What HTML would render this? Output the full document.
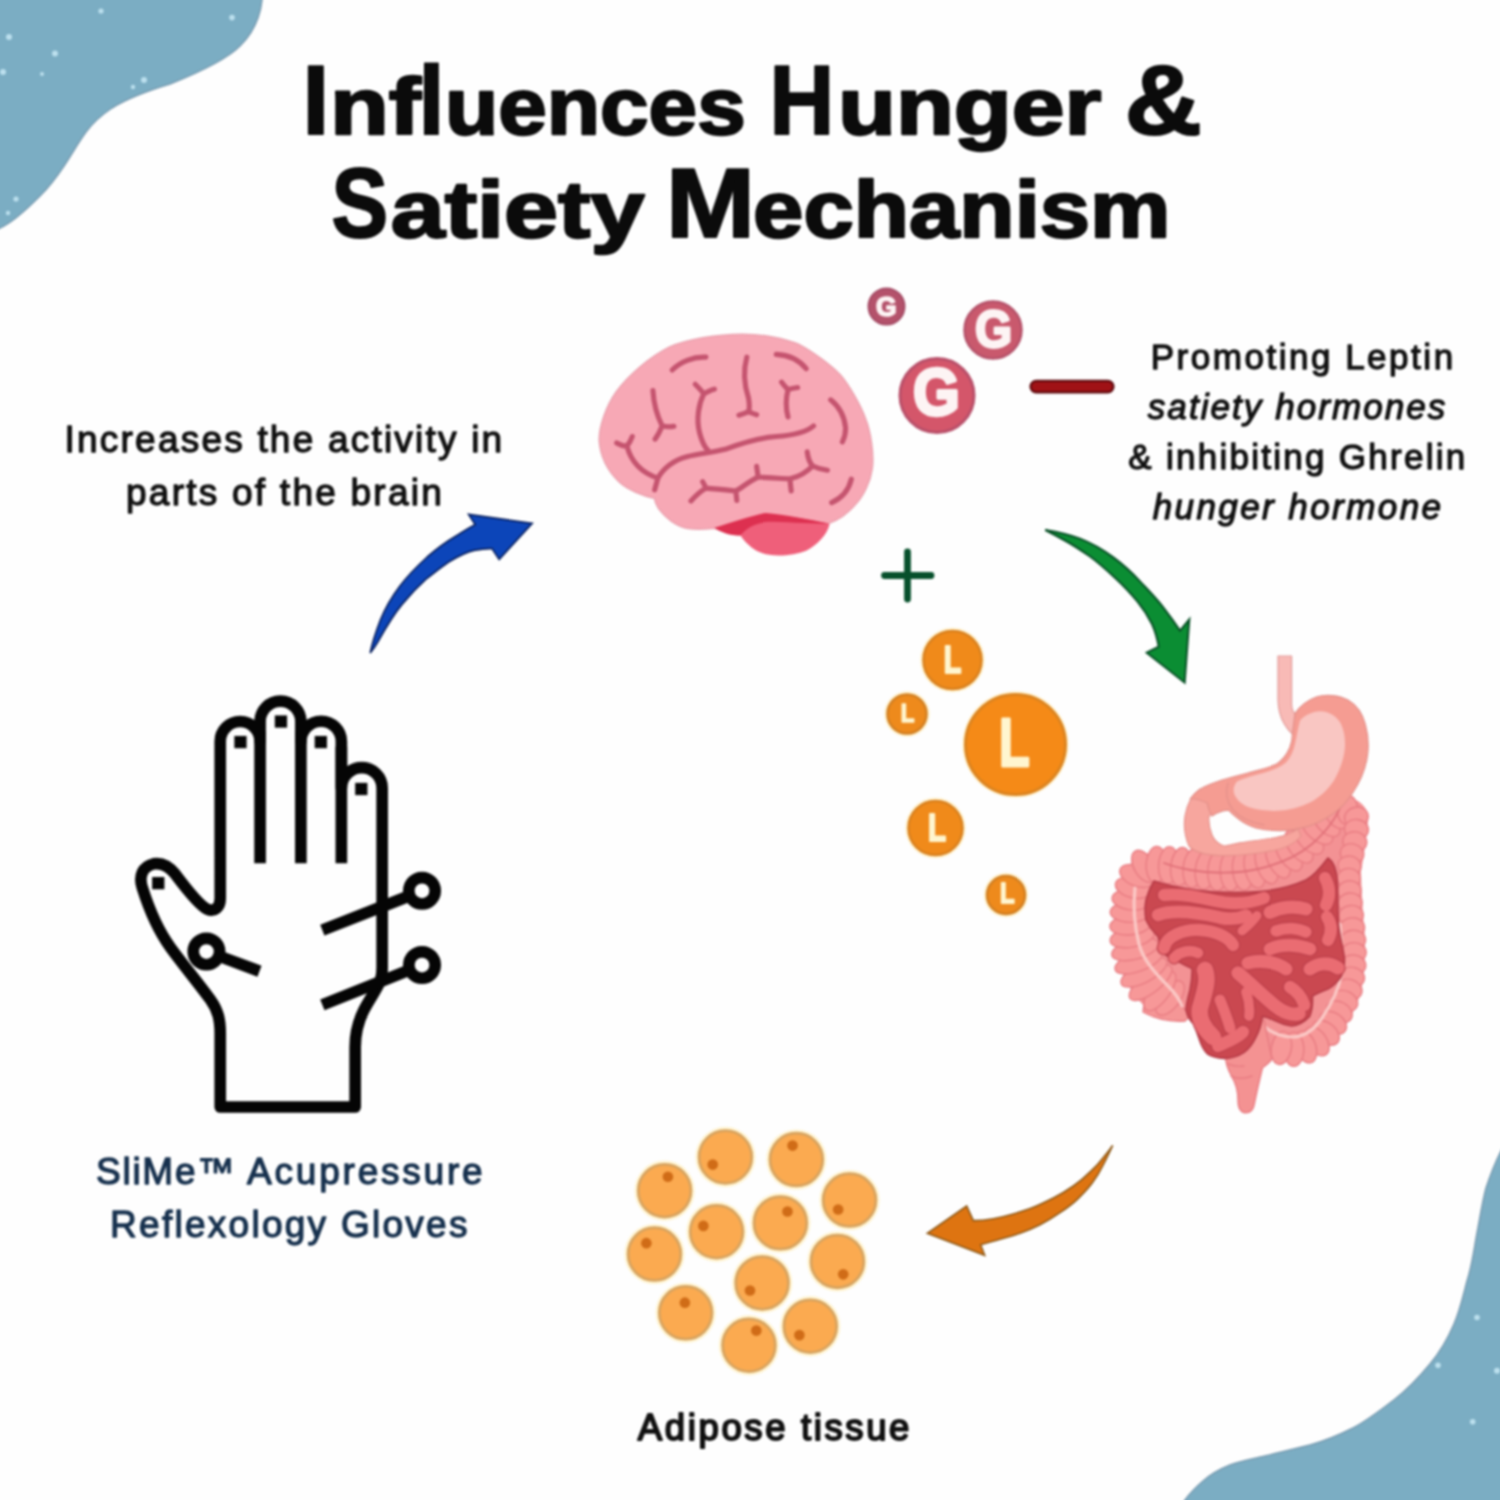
<!DOCTYPE html>
<html lang="en">
<head>
<meta charset="utf-8">
<title>Influences Hunger &amp; Satiety Mechanism</title>
<style>
html,body{margin:0;padding:0;background:#fefefe;}
body{width:1500px;height:1500px;overflow:hidden;position:relative;}
svg{display:block;position:absolute;left:0;top:0;}
text{font-family:"Liberation Sans",sans-serif;}
.title{font-weight:bold;font-size:80px;fill:#0b0b0b;stroke:#0b0b0b;stroke-width:2.4px;stroke-linejoin:round;}
.title .cap{font-size:99px;stroke-width:2.2px;}
.title .tall{font-size:99px;stroke-width:1px;}
.body{font-size:37px;fill:#111;stroke:#111;stroke-width:1.3px;stroke-linejoin:round;}
.sm{font-size:35px;}
.md{font-size:36.5px;stroke-width:1.9px;}
.ital{font-style:italic;}
.navy{fill:#17314e;stroke:#17314e;}
</style>
</head>
<body>
<svg width="1500" height="1500" viewBox="0 0 1500 1500">
<defs>
<filter id="soft" filterUnits="userSpaceOnUse" x="-30" y="-30" width="1560" height="1560" color-interpolation-filters="sRGB"><feGaussianBlur stdDeviation="0.8"/></filter>
</defs>
<rect width="1500" height="1500" fill="#fefefe"/>
<g id="art" filter="url(#soft)">

<!-- corner blobs -->
<g id="blobs">
<path d="M-30,-30 L262,-30 L262,0 C260,20 252,34 240,46 C228,58 200,72 170,84 C150,90 128,98 112,108 C100,116 92,124 86,132 C78,143 72,154 64,166 C56,178 48,188 40,196 C30,206 14,222 0,228 L-30,240 Z" fill="#7badc3" stroke="#7a9db2" stroke-width="1.5"/>
<path d="M1530,1100 L1500,1153 C1494,1165 1490,1176 1486,1188 C1482,1203 1480,1218 1477,1233 C1474,1249 1472,1266 1467,1281 C1463,1296 1460,1310 1454,1324 C1448,1338 1440,1352 1430,1364 C1420,1376 1408,1389 1395,1399 C1382,1409 1368,1420 1353,1428 C1339,1435 1325,1441 1310,1445 C1295,1449 1280,1452 1265,1456 C1253,1459 1241,1461 1230,1465 C1220,1469 1211,1474 1203,1481 C1196,1487 1190,1493 1185,1500 L1170,1530 L1530,1530 Z" fill="#7badc3" stroke="#7a9db2" stroke-width="1.5"/>
<g fill="#c4e6f3" opacity="0.9">
<circle cx="101" cy="11" r="2.6"/><circle cx="232" cy="17.6" r="2.8"/><circle cx="9" cy="37" r="3"/><circle cx="55" cy="53.6" r="3"/><circle cx="3" cy="72" r="3"/><circle cx="144" cy="80" r="3"/><circle cx="133" cy="87" r="2.2"/><circle cx="16" cy="199" r="2.6"/><circle cx="8" cy="213" r="2.2"/><circle cx="42" cy="74" r="2"/>
<circle cx="1477" cy="1317.5" r="2.8"/><circle cx="1438" cy="1365.3" r="2.8"/><circle cx="1497" cy="1370.7" r="3"/><circle cx="1472.7" cy="1421.8" r="2.8"/>
</g>
</g>

<!-- title -->
<g id="title" class="title">
<text y="134.3"><tspan class="cap" x="302.6" textLength="26.7" lengthAdjust="spacingAndGlyphs">I</tspan><tspan x="329.9" textLength="91.0" lengthAdjust="spacingAndGlyphs">nf</tspan><tspan class="tall" x="417.4" textLength="27.9" lengthAdjust="spacingAndGlyphs">l</tspan><tspan x="444.9" textLength="300.8" lengthAdjust="spacingAndGlyphs">uences</tspan> <tspan class="cap" x="769.6" textLength="64.7" lengthAdjust="spacingAndGlyphs">H</tspan><tspan x="838.0" textLength="263.4" lengthAdjust="spacingAndGlyphs">unger</tspan> <tspan class="cap" x="1124.8" textLength="77.1" lengthAdjust="spacingAndGlyphs">&amp;</tspan></text>
<text y="236.8"><tspan class="cap" x="331.4" textLength="56.6" lengthAdjust="spacingAndGlyphs">S</tspan><tspan x="390.8" textLength="253.6" lengthAdjust="spacingAndGlyphs">atiety</tspan> <tspan class="cap" x="666.0" textLength="89.0" lengthAdjust="spacingAndGlyphs">M</tspan><tspan x="753.1" textLength="417.5" lengthAdjust="spacingAndGlyphs">echanism</tspan></text>
</g>

<!-- body copy -->
<g id="copy">
<text class="body" x="64.6" y="452" textLength="437.6" lengthAdjust="spacing">Increases the activity in</text>
<text class="body" x="126.0" y="504.5" textLength="315.8" lengthAdjust="spacing">parts of the brain</text>
<text class="body sm" x="1150.7" y="368.7" textLength="302.4" lengthAdjust="spacing">Promoting Leptin</text>
<text class="body sm ital" x="1147.8" y="418.7" textLength="297.4" lengthAdjust="spacing">satiety hormones</text>
<text class="body sm" x="1128.3" y="469.3" textLength="337.0" lengthAdjust="spacing">&amp; inhibiting Ghrelin</text>
<text class="body sm ital" x="1152.7" y="519.3" textLength="288.3" lengthAdjust="spacing">hunger hormone</text>
<text class="body navy" y="1184"><tspan x="96.0" textLength="138.2" lengthAdjust="spacing">SliMe™</tspan> <tspan x="247.0" textLength="235.7" lengthAdjust="spacing">Acupressure</tspan></text>
<text class="body navy" x="110.1" y="1236.7" textLength="357.3" lengthAdjust="spacing">Reflexology Gloves</text>
<text class="body md" x="637.8" y="1440" textLength="271.6" lengthAdjust="spacing">Adipose tissue</text>
</g>

<!-- brain -->
<g id="brain" transform="translate(580,300) scale(0.213333)">
<path d="M90,660 C88,600 120,500 170,430 C220,360 320,270 420,220 C500,185 640,160 760,160 C850,160 960,180 1030,210 C1090,240 1180,310 1220,350 C1260,395 1320,500 1340,560 C1360,610 1380,720 1370,790 C1362,850 1330,920 1290,960 C1260,995 1215,1030 1170,1045 L1120,1080 L700,1090 L630,1070 C580,1075 530,1075 500,1070 C450,1060 400,1020 370,980 C355,955 350,940 350,930 C300,920 220,890 180,850 C130,800 95,730 90,660 Z" fill="#f7a8b5" stroke="#eba3b0" stroke-width="7"/>
<path d="M640,1068 C700,1050 780,1020 860,1000 C960,1010 1080,1030 1170,1050 C1160,1100 1110,1150 1060,1175 C1000,1200 900,1205 850,1185 C800,1165 770,1130 750,1100 C710,1105 670,1090 640,1068 Z" fill="#ef5f7a"/>
<path d="M630,1068 C700,1045 790,1015 870,998 C960,1005 1080,1030 1170,1048 C1080,1050 960,1040 880,1040 C820,1045 780,1070 750,1105 C705,1105 660,1090 630,1068 Z" fill="#dd3050"/>
<g fill="none" stroke="#c5546f" stroke-width="24" stroke-linecap="round" stroke-linejoin="round">
<path d="M432,328 C470,290 530,265 590,268"/>
<path d="M920,255 C980,258 1030,285 1060,322"/>
<path d="M782,268 C765,330 770,400 790,460 C795,490 795,510 790,525 M745,540 C765,535 780,530 790,522 C800,530 815,535 828,538"/>
<path d="M540,395 C555,410 570,425 580,440 C600,430 615,420 630,418 M580,440 C555,490 545,560 560,620 C570,660 585,690 600,705"/>
<path d="M945,385 C955,400 965,410 975,420 C990,415 1005,412 1020,410 M975,420 C965,460 965,510 975,548"/>
<path d="M342,425 C345,480 360,540 385,590 C405,595 425,595 440,592 M385,590 C375,615 365,635 352,652"/>
<path d="M1175,468 C1215,500 1240,550 1245,600 C1245,625 1240,645 1230,665"/>
<path d="M172,670 C190,680 205,685 220,685 C232,670 240,655 245,640 M220,685 C240,760 290,810 365,835 C360,855 355,870 350,890 M365,835 C390,790 440,750 500,735 C560,720 620,715 680,700 C760,670 840,645 920,640 C990,635 1060,620 1095,590"/>
<path d="M1065,712 C1068,740 1075,760 1090,778 C1115,790 1140,795 1160,798 M1090,778 C1060,810 1020,830 985,838 C985,858 988,875 990,895 M985,838 C930,835 880,835 835,830 C832,810 830,795 828,780 M835,830 C790,850 760,880 730,895 C732,910 734,925 735,940 M730,895 C680,890 630,885 590,882 C585,870 580,860 575,852 M590,882 C560,900 540,920 520,942"/>
<path d="M1272,840 C1260,890 1225,930 1180,950"/>
</g>
</g>

<!-- ghrelin markers -->
<g id="ghrelin" font-weight="bold" text-anchor="middle" fill="#fdf4f4" stroke="#fdf4f4" stroke-linejoin="round">
<circle cx="886.5" cy="306.5" r="18" fill="#b4526b" stroke="#a64d67" stroke-width="2"/>
<text transform="translate(886.2,315.6) scale(0.98,1)" font-size="27" stroke-width="1.7">G</text>
<circle cx="993" cy="330" r="28.5" fill="#c9596d" stroke="#b5526a" stroke-width="2.5"/>
<text transform="translate(993.5,346.6) scale(0.92,1)" font-size="52" stroke-width="2.8">G</text>
<circle cx="937" cy="395.5" r="37" fill="#d4566a" stroke="#b9506a" stroke-width="3"/>
<text transform="translate(936.5,415) scale(0.9,1)" font-size="67" stroke-width="3.6">G</text>
</g>
<rect x="1030.5" y="380.8" width="83" height="11.6" rx="5.8" fill="#a01216" stroke="#5f0a0f" stroke-width="2.2"/>
<g id="plus" stroke="#07502c" stroke-width="6.8" stroke-linecap="round"><path d="M884.5,575.5 H931"/><path d="M907.5,552 V599"/></g>

<!-- leptin markers -->
<g id="leptin" font-weight="bold" text-anchor="middle" fill="#fff6cf" stroke="#fff6cf" stroke-linejoin="round">
<circle cx="952.5" cy="660" r="32.2" fill="#fff1cc" stroke="none"/>
<circle cx="952.5" cy="660" r="29" fill="#f08a1a" stroke="#d9811f" stroke-width="2.5"/>
<text transform="translate(952.6,672.5) scale(0.74,1)" font-size="39" stroke-width="2.2">L</text>
<circle cx="907" cy="714" r="22.7" fill="#fff1cc" stroke="none"/>
<circle cx="907" cy="714" r="19.5" fill="#ee8a1c" stroke="#d27f22" stroke-width="2.5"/>
<text transform="translate(907.6,722) scale(0.86,1)" font-size="26" stroke-width="1.6">L</text>
<circle cx="1015.5" cy="744.5" r="53.2" fill="#fff1cc" stroke="none"/>
<circle cx="1015.5" cy="744.5" r="50" fill="#f58a17" stroke="#dc8420" stroke-width="3"/>
<text transform="translate(1014.4,765.6) scale(0.74,1)" font-size="68" stroke-width="3">L</text>
<circle cx="935.5" cy="828" r="30.2" fill="#fff1cc" stroke="none"/>
<circle cx="935.5" cy="828" r="27" fill="#f08a1a" stroke="#d9811f" stroke-width="2.5"/>
<text transform="translate(937,841) scale(0.78,1)" font-size="38" stroke-width="2.2">L</text>
<circle cx="1006" cy="895" r="22.2" fill="#fff1cc" stroke="none"/>
<circle cx="1006" cy="895" r="19" fill="#ee8a1c" stroke="#d27f22" stroke-width="2.5"/>
<text transform="translate(1007.3,903) scale(0.8,1)" font-size="30" stroke-width="1.8">L</text>
</g>

<!-- arrows -->
<g id="arrow-blue" transform="translate(360,500) scale(0.12)">
<path d="M85,1275 C100,1200 120,1130 170,1000 C210,900 270,800 330,720 C390,640 500,530 560,475 C640,405 740,335 800,300 C850,270 910,232 960,205 L905,120 L1435,195 L1160,495 L1100,405 C1060,403 1000,410 950,420 C900,432 800,480 750,510 C700,540 600,620 550,660 C500,705 400,810 350,870 C300,930 200,1090 150,1180 C130,1215 105,1250 85,1275 Z" fill="#0c45b9" stroke="#08205f" stroke-width="14" stroke-linejoin="miter"/>
</g>
<g id="arrow-green" transform="translate(1020,500) scale(0.133333)">
<path d="M190,225 C280,240 370,260 450,290 C540,325 625,375 700,430 C775,485 840,545 900,610 C960,675 1020,735 1070,800 C1120,865 1160,920 1200,980 L1270,895 L1235,1370 L950,1145 L1040,1100 C1030,1040 1015,985 990,930 C960,870 925,815 880,760 C830,700 780,645 720,590 C655,530 590,470 520,420 C455,375 395,335 330,300 C280,272 235,248 190,225 Z" fill="#0b8d33" stroke="#074f25" stroke-width="15" stroke-linejoin="miter"/>
</g>
<g id="arrow-orange" transform="translate(920,1130) scale(0.133333)">
<path d="M1445,115 C1425,145 1400,175 1380,200 C1350,240 1320,275 1280,310 C1240,350 1200,385 1150,420 C1100,455 1050,485 1000,510 C950,535 900,560 850,580 C800,600 750,615 700,630 C650,645 600,656 550,665 C500,674 450,680 400,680 L350,570 L55,775 L485,940 L455,860 C500,848 550,835 600,820 C650,806 700,792 750,775 C800,757 850,735 900,710 C950,685 1000,655 1050,620 C1095,590 1140,558 1180,520 C1220,482 1258,442 1290,400 C1320,360 1348,315 1370,270 C1395,220 1420,170 1445,115 Z" fill="#de7411" stroke="#8f5a18" stroke-width="12" stroke-linejoin="miter"/>
</g>

<!-- hand icon -->
<g id="hand" transform="translate(100,670) scale(0.30669)" fill="none" stroke="#050505" stroke-width="38" stroke-linejoin="round">
<path d="M392,1425 H832 V1230 C832,1190 840,1150 860,1110 C880,1070 905,1040 915,1010 C920,995 920,985 920,970 V385 A66.5,66.5 0 0 0 787,385 V233 A66,66 0 0 0 655,233 V168 A66.5,66.5 0 0 0 522,168 V233 A65,65 0 0 0 392,233 V745 C392,775 372,790 350,780 C325,768 290,725 245,665 C225,640 200,628 175,632 C140,640 125,670 138,710 C160,780 190,850 230,905 C270,960 320,1020 360,1075 C385,1110 392,1140 392,1185 Z"/>
<path d="M522,200 V630 M655,200 V630 M787,250 V630" stroke-linecap="butt"/>
<g stroke-linecap="butt">
<path d="M725,848 L1010,736"/><circle cx="1050" cy="720" r="43"/>
<path d="M725,1092 L1010,978"/><circle cx="1050" cy="962" r="43"/>
<path d="M520,982 L388,933"/><circle cx="347" cy="918" r="43"/>
</g>
<g fill="#050505" stroke="none">
<rect x="438" y="215" width="40" height="40"/>
<rect x="570" y="148" width="40" height="40"/>
<rect x="700" y="215" width="40" height="40"/>
<rect x="832" y="368" width="40" height="40"/>
<rect x="170" y="675" width="40" height="40"/>
</g>
</g>

<!-- adipose cells -->
<g id="cells" transform="translate(600,1100) scale(0.25336)">
<g fill="#fff4d2">
<circle cx="495" cy="225" r="119"/><circle cx="775" cy="235" r="119"/><circle cx="255" cy="358" r="119"/><circle cx="985" cy="395" r="119"/><circle cx="460" cy="520" r="119"/><circle cx="712" cy="485" r="119"/><circle cx="215" cy="608" r="119"/><circle cx="937" cy="637" r="119"/><circle cx="640" cy="722" r="119"/><circle cx="338" cy="840" r="119"/><circle cx="830" cy="893" r="119"/><circle cx="588" cy="968" r="119"/>
</g>
<g fill="#fbaa50" stroke="#d7a35f" stroke-width="11">
<circle cx="495" cy="225" r="104"/><circle cx="775" cy="235" r="104"/><circle cx="255" cy="358" r="104"/><circle cx="985" cy="395" r="104"/><circle cx="460" cy="520" r="104"/><circle cx="712" cy="485" r="104"/><circle cx="215" cy="608" r="104"/><circle cx="937" cy="637" r="104"/><circle cx="640" cy="722" r="104"/><circle cx="338" cy="840" r="104"/><circle cx="830" cy="893" r="104"/><circle cx="588" cy="968" r="104"/>
</g>
<g fill="#d06c17">
<circle cx="445" cy="255" r="21"/><circle cx="760" cy="180" r="21"/><circle cx="268" cy="303" r="21"/><circle cx="940" cy="432" r="21"/><circle cx="408" cy="497" r="21"/><circle cx="740" cy="440" r="21"/><circle cx="183" cy="565" r="21"/><circle cx="960" cy="688" r="21"/><circle cx="592" cy="752" r="21"/><circle cx="335" cy="800" r="21"/><circle cx="787" cy="928" r="21"/><circle cx="617" cy="910" r="21"/>
</g>
</g>
<!-- digestive system -->
<g id="gut" transform="translate(1100,640) scale(0.2)">
<g id="colon">
<path d="M330,1830 C250,1800 180,1700 150,1580 C135,1500 138,1300 165,1240 C180,1180 200,1140 240,1128 C300,1120 400,1135 460,1140 C560,1152 700,1152 760,1145 C820,1135 960,1060 1030,1005 C1070,970 1100,930 1130,905 C1160,880 1200,855 1230,850 C1260,850 1285,870 1280,900 C1278,950 1255,1100 1245,1150 C1245,1200 1255,1400 1262,1450 C1268,1520 1268,1650 1245,1750 C1230,1800 1205,1850 1185,1880 C1160,1920 1130,1970 1100,1995 C1070,2020 1030,2040 990,2045 C950,2048 910,2040 880,2035" fill="none" stroke="#f39294" stroke-width="120" stroke-linecap="round" stroke-linejoin="round"/>
<path d="M150,1400 L165,1240 L215,1135 L460,1140 L760,1145 L900,1095 L1030,1005 L1130,905 L1230,850 L1280,880 L1262,1450 L1245,1750 L1100,1995 L880,2035 L640,2000 L470,1900 L330,1830 L150,1580 Z" fill="#f39294"/>
<path d="M230,1740 C300,1780 400,1800 450,1880 L425,1905 C350,1910 270,1890 215,1860 Z" fill="#f59696" stroke="#e87c82" stroke-width="7"/>
<ellipse cx="350" cy="1790" rx="50" ry="100" transform="rotate(-144 350 1790)" fill="#f79898" stroke="#e87c82" stroke-width="7"/>
<ellipse cx="299" cy="1755" rx="50" ry="117" transform="rotate(-144 299 1755)" fill="#f79898" stroke="#e87c82" stroke-width="7"/>
<ellipse cx="253" cy="1713" rx="50" ry="130" transform="rotate(-128 253 1713)" fill="#f79898" stroke="#e87c82" stroke-width="7"/>
<ellipse cx="220" cy="1661" rx="50" ry="128" transform="rotate(-118 220 1661)" fill="#f79898" stroke="#e87c82" stroke-width="7"/>
<ellipse cx="194" cy="1605" rx="50" ry="126" transform="rotate(-111 194 1605)" fill="#f79898" stroke="#e87c82" stroke-width="7"/>
<ellipse cx="175" cy="1546" rx="50" ry="120" transform="rotate(-105 175 1546)" fill="#f79898" stroke="#e87c82" stroke-width="7"/>
<ellipse cx="161" cy="1485" rx="50" ry="112" transform="rotate(-101 161 1485)" fill="#f79898" stroke="#e87c82" stroke-width="7"/>
<ellipse cx="152" cy="1424" rx="50" ry="103" transform="rotate(-96 152 1424)" fill="#f79898" stroke="#e87c82" stroke-width="7"/>
<ellipse cx="149" cy="1362" rx="50" ry="98" transform="rotate(-89 149 1362)" fill="#f79898" stroke="#e87c82" stroke-width="7"/>
<ellipse cx="154" cy="1300" rx="50" ry="94" transform="rotate(-83 154 1300)" fill="#f79898" stroke="#e87c82" stroke-width="7"/>
<ellipse cx="165" cy="1239" rx="50" ry="90" transform="rotate(-76 165 1239)" fill="#f79898" stroke="#e87c82" stroke-width="7"/>
<ellipse cx="183" cy="1180" rx="50" ry="89" transform="rotate(-67 183 1180)" fill="#f79898" stroke="#e87c82" stroke-width="7"/>
<ellipse cx="220" cy="1132" rx="50" ry="88" transform="rotate(-30 220 1132)" fill="#f79898" stroke="#e87c82" stroke-width="7"/>
<ellipse cx="281" cy="1123" rx="50" ry="91" transform="rotate(3 281 1123)" fill="#f79898" stroke="#e87c82" stroke-width="7"/>
<ellipse cx="343" cy="1126" rx="50" ry="93" transform="rotate(4 343 1126)" fill="#f79898" stroke="#e87c82" stroke-width="7"/>
<ellipse cx="404" cy="1133" rx="50" ry="96" transform="rotate(7 404 1133)" fill="#f79898" stroke="#e87c82" stroke-width="7"/>
<ellipse cx="466" cy="1141" rx="50" ry="98" transform="rotate(6 466 1141)" fill="#f79898" stroke="#e87c82" stroke-width="7"/>
<ellipse cx="527" cy="1148" rx="50" ry="99" transform="rotate(7 527 1148)" fill="#f79898" stroke="#e87c82" stroke-width="7"/>
<ellipse cx="589" cy="1154" rx="50" ry="100" transform="rotate(3 589 1154)" fill="#f79898" stroke="#e87c82" stroke-width="7"/>
<ellipse cx="651" cy="1155" rx="50" ry="100" transform="rotate(-1 651 1155)" fill="#f79898" stroke="#e87c82" stroke-width="7"/>
<ellipse cx="713" cy="1152" rx="50" ry="100" transform="rotate(-6 713 1152)" fill="#f79898" stroke="#e87c82" stroke-width="7"/>
<ellipse cx="774" cy="1142" rx="50" ry="100" transform="rotate(-13 774 1142)" fill="#f79898" stroke="#e87c82" stroke-width="7"/>
<ellipse cx="833" cy="1124" rx="50" ry="99" transform="rotate(-20 833 1124)" fill="#f79898" stroke="#e87c82" stroke-width="7"/>
<ellipse cx="890" cy="1100" rx="50" ry="98" transform="rotate(-26 890 1100)" fill="#f79898" stroke="#e87c82" stroke-width="7"/>
<ellipse cx="944" cy="1069" rx="50" ry="97" transform="rotate(-33 944 1069)" fill="#f79898" stroke="#e87c82" stroke-width="7"/>
<ellipse cx="995" cy="1033" rx="50" ry="96" transform="rotate(-37 995 1033)" fill="#f79898" stroke="#e87c82" stroke-width="7"/>
<ellipse cx="1043" cy="994" rx="50" ry="95" transform="rotate(-43 1043 994)" fill="#f79898" stroke="#e87c82" stroke-width="7"/>
<ellipse cx="1086" cy="949" rx="50" ry="94" transform="rotate(-48 1086 949)" fill="#f79898" stroke="#e87c82" stroke-width="7"/>
<ellipse cx="1129" cy="905" rx="50" ry="93" transform="rotate(-40 1129 905)" fill="#f79898" stroke="#e87c82" stroke-width="7"/>
<ellipse cx="1179" cy="868" rx="50" ry="83" transform="rotate(-33 1179 868)" fill="#f79898" stroke="#e87c82" stroke-width="7"/>
<ellipse cx="1237" cy="849" rx="50" ry="72" transform="rotate(5 1237 849)" fill="#f79898" stroke="#e87c82" stroke-width="7"/>
<ellipse cx="1282" cy="886" rx="50" ry="60" transform="rotate(76 1282 886)" fill="#f79898" stroke="#e87c82" stroke-width="7"/>
<ellipse cx="1282" cy="947" rx="50" ry="60" transform="rotate(96 1282 947)" fill="#f79898" stroke="#e87c82" stroke-width="7"/>
<ellipse cx="1274" cy="1009" rx="50" ry="60" transform="rotate(99 1274 1009)" fill="#f79898" stroke="#e87c82" stroke-width="7"/>
<ellipse cx="1260" cy="1069" rx="50" ry="59" transform="rotate(104 1260 1069)" fill="#f79898" stroke="#e87c82" stroke-width="7"/>
<ellipse cx="1247" cy="1130" rx="50" ry="58" transform="rotate(99 1247 1130)" fill="#f79898" stroke="#e87c82" stroke-width="7"/>
<ellipse cx="1244" cy="1192" rx="50" ry="58" transform="rotate(89 1244 1192)" fill="#f79898" stroke="#e87c82" stroke-width="7"/>
<ellipse cx="1247" cy="1254" rx="50" ry="59" transform="rotate(86 1247 1254)" fill="#f79898" stroke="#e87c82" stroke-width="7"/>
<ellipse cx="1251" cy="1315" rx="50" ry="60" transform="rotate(86 1251 1315)" fill="#f79898" stroke="#e87c82" stroke-width="7"/>
<ellipse cx="1256" cy="1377" rx="50" ry="61" transform="rotate(85 1256 1377)" fill="#f79898" stroke="#e87c82" stroke-width="7"/>
<ellipse cx="1261" cy="1439" rx="50" ry="62" transform="rotate(86 1261 1439)" fill="#f79898" stroke="#e87c82" stroke-width="7"/>
<ellipse cx="1266" cy="1501" rx="50" ry="62" transform="rotate(86 1266 1501)" fill="#f79898" stroke="#e87c82" stroke-width="7"/>
<ellipse cx="1269" cy="1563" rx="50" ry="62" transform="rotate(89 1269 1563)" fill="#f79898" stroke="#e87c82" stroke-width="7"/>
<ellipse cx="1266" cy="1625" rx="50" ry="63" transform="rotate(95 1266 1625)" fill="#f79898" stroke="#e87c82" stroke-width="7"/>
<ellipse cx="1259" cy="1686" rx="50" ry="64" transform="rotate(99 1259 1686)" fill="#f79898" stroke="#e87c82" stroke-width="7"/>
<ellipse cx="1246" cy="1747" rx="50" ry="65" transform="rotate(106 1246 1747)" fill="#f79898" stroke="#e87c82" stroke-width="7"/>
<ellipse cx="1224" cy="1805" rx="50" ry="67" transform="rotate(114 1224 1805)" fill="#f79898" stroke="#e87c82" stroke-width="7"/>
<ellipse cx="1196" cy="1860" rx="50" ry="69" transform="rotate(119 1196 1860)" fill="#f79898" stroke="#e87c82" stroke-width="7"/>
<ellipse cx="1165" cy="1914" rx="50" ry="73" transform="rotate(122 1165 1914)" fill="#f79898" stroke="#e87c82" stroke-width="7"/>
<ellipse cx="1129" cy="1964" rx="50" ry="77" transform="rotate(129 1129 1964)" fill="#f79898" stroke="#e87c82" stroke-width="7"/>
<ellipse cx="1084" cy="2007" rx="50" ry="81" transform="rotate(145 1084 2007)" fill="#f79898" stroke="#e87c82" stroke-width="7"/>
<ellipse cx="1029" cy="2035" rx="50" ry="83" transform="rotate(161 1029 2035)" fill="#f79898" stroke="#e87c82" stroke-width="7"/>
<ellipse cx="969" cy="2047" rx="50" ry="85" transform="rotate(180 969 2047)" fill="#f79898" stroke="#e87c82" stroke-width="7"/>
<ellipse cx="907" cy="2040" rx="50" ry="83" transform="rotate(-170 907 2040)" fill="#f79898" stroke="#e87c82" stroke-width="7"/>
<path d="M175,1240 C165,1330 170,1420 195,1520 C215,1600 280,1670 340,1730 C370,1760 395,1790 410,1830" fill="none" stroke="#fbc9c6" stroke-width="16" stroke-linecap="round"/>
<path d="M1200,1420 C1205,1500 1215,1600 1205,1680 C1190,1760 1150,1830 1110,1890 C1070,1950 1020,1985 960,1985 C910,1985 860,1965 825,1935" fill="none" stroke="#fbc9c6" stroke-width="16" stroke-linecap="round"/>
<path d="M1215,800 C1190,880 1140,950 1060,1020 C990,1080 900,1120 790,1145 C690,1168 560,1170 450,1150 C400,1140 360,1130 320,1115" fill="none" stroke="#e07078" stroke-width="9" stroke-linecap="round"/>
</g>
<path d="M625,2060 C625,2110 640,2150 660,2185 C682,2222 690,2260 690,2300 C690,2340 700,2362 728,2364 C756,2364 768,2345 772,2318 C785,2250 800,2190 812,2140 C830,2125 850,2110 860,2095 L820,1900 L640,1950 Z" fill="#f49292" stroke="#e87c82" stroke-width="7" stroke-linejoin="round"/>
<path d="M640,2120 C665,2130 690,2135 720,2130 M655,2180 C685,2195 720,2195 760,2180" fill="none" stroke="#e87c82" stroke-width="7" stroke-linecap="round"/>
<g id="small-intestine">
<path d="M270,1205 C330,1225 400,1240 470,1250 C560,1262 680,1268 800,1258 C880,1250 960,1232 1030,1200 C1070,1180 1110,1130 1140,1090 C1170,1110 1182,1150 1186,1200 C1190,1260 1188,1340 1192,1420 C1198,1480 1216,1540 1222,1590 C1224,1630 1216,1660 1205,1685 C1185,1712 1165,1730 1145,1742 C1115,1754 1085,1766 1062,1780 C1064,1820 1060,1855 1048,1882 C1020,1912 990,1926 958,1930 C922,1924 892,1912 868,1900 C850,1892 830,1884 812,1882 C806,1922 796,1956 780,1984 C764,2018 744,2044 720,2062 C690,2082 655,2092 620,2092 C585,2090 558,2082 538,2070 C518,2050 506,2026 498,2000 C488,1970 478,1944 468,1920 C448,1900 434,1876 430,1850 C432,1815 442,1780 450,1750 C458,1710 462,1676 460,1642 C430,1630 404,1616 380,1602 C350,1590 326,1578 310,1560 C304,1530 298,1506 290,1482 C264,1456 244,1428 230,1400 C224,1366 224,1332 230,1300 C240,1262 254,1232 270,1205 Z" fill="#ca4850" stroke="#b53a46" stroke-width="8" stroke-linejoin="round"/>
<path d="M320,1275 C420,1265 520,1295 620,1312 C690,1322 760,1312 820,1290" fill="none" stroke="#b83c48" stroke-width="72" stroke-linecap="round"/>
<path d="M290,1375 C370,1345 500,1365 600,1388 C650,1398 690,1395 730,1378" fill="none" stroke="#b83c48" stroke-width="74" stroke-linecap="round"/>
<path d="M850,1362 C900,1335 970,1328 1030,1345" fill="none" stroke="#b83c48" stroke-width="76" stroke-linecap="round"/>
<path d="M1125,1190 C1150,1235 1150,1285 1130,1325" fill="none" stroke="#b83c48" stroke-width="72" stroke-linecap="round"/>
<path d="M1135,1385 C1160,1420 1160,1460 1140,1500" fill="none" stroke="#b83c48" stroke-width="72" stroke-linecap="round"/>
<path d="M880,1455 C930,1435 990,1440 1030,1460" fill="none" stroke="#b83c48" stroke-width="68" stroke-linecap="round"/>
<path d="M850,1545 C910,1518 990,1522 1050,1545" fill="none" stroke="#b83c48" stroke-width="74" stroke-linecap="round"/>
<path d="M320,1540 C330,1480 420,1445 500,1450 C570,1455 640,1480 665,1525" fill="none" stroke="#b83c48" stroke-width="72" stroke-linecap="round"/>
<path d="M370,1590 C400,1555 450,1548 490,1565" fill="none" stroke="#b83c48" stroke-width="64" stroke-linecap="round"/>
<path d="M740,1615 C800,1598 880,1608 930,1645" fill="none" stroke="#b83c48" stroke-width="76" stroke-linecap="round"/>
<path d="M1050,1645 C1095,1612 1150,1612 1190,1640" fill="none" stroke="#b83c48" stroke-width="76" stroke-linecap="round"/>
<path d="M525,1650 C545,1700 520,1770 500,1840 C490,1890 520,1945 565,1985" fill="none" stroke="#b83c48" stroke-width="94" stroke-linecap="round"/>
<path d="M690,1665 C750,1715 810,1775 870,1825 C910,1858 950,1880 995,1868" fill="none" stroke="#b83c48" stroke-width="78" stroke-linecap="round"/>
<path d="M950,1735 C985,1755 1010,1790 1022,1825" fill="none" stroke="#b83c48" stroke-width="72" stroke-linecap="round"/>
<path d="M600,1800 C620,1850 640,1900 650,1940" fill="none" stroke="#b83c48" stroke-width="66" stroke-linecap="round"/>
<path d="M590,2030 C630,2010 680,1995 715,1960" fill="none" stroke="#b83c48" stroke-width="72" stroke-linecap="round"/>
<path d="M710,1455 C745,1425 770,1400 785,1378" fill="none" stroke="#b83c48" stroke-width="56" stroke-linecap="round"/>
<path d="M730,1760 C745,1800 750,1840 745,1880" fill="none" stroke="#b83c48" stroke-width="60" stroke-linecap="round"/>
<path d="M320,1275 C420,1265 520,1295 620,1312 C690,1322 760,1312 820,1290" fill="none" stroke="#ea6c72" stroke-width="62" stroke-linecap="round"/>
<path d="M290,1375 C370,1345 500,1365 600,1388 C650,1398 690,1395 730,1378" fill="none" stroke="#ea6c72" stroke-width="64" stroke-linecap="round"/>
<path d="M850,1362 C900,1335 970,1328 1030,1345" fill="none" stroke="#ea6c72" stroke-width="66" stroke-linecap="round"/>
<path d="M1125,1190 C1150,1235 1150,1285 1130,1325" fill="none" stroke="#ea6c72" stroke-width="62" stroke-linecap="round"/>
<path d="M1135,1385 C1160,1420 1160,1460 1140,1500" fill="none" stroke="#ea6c72" stroke-width="62" stroke-linecap="round"/>
<path d="M880,1455 C930,1435 990,1440 1030,1460" fill="none" stroke="#ea6c72" stroke-width="58" stroke-linecap="round"/>
<path d="M850,1545 C910,1518 990,1522 1050,1545" fill="none" stroke="#ea6c72" stroke-width="64" stroke-linecap="round"/>
<path d="M320,1540 C330,1480 420,1445 500,1450 C570,1455 640,1480 665,1525" fill="none" stroke="#ea6c72" stroke-width="62" stroke-linecap="round"/>
<path d="M370,1590 C400,1555 450,1548 490,1565" fill="none" stroke="#ea6c72" stroke-width="54" stroke-linecap="round"/>
<path d="M740,1615 C800,1598 880,1608 930,1645" fill="none" stroke="#ea6c72" stroke-width="66" stroke-linecap="round"/>
<path d="M1050,1645 C1095,1612 1150,1612 1190,1640" fill="none" stroke="#ea6c72" stroke-width="66" stroke-linecap="round"/>
<path d="M525,1650 C545,1700 520,1770 500,1840 C490,1890 520,1945 565,1985" fill="none" stroke="#ea6c72" stroke-width="84" stroke-linecap="round"/>
<path d="M690,1665 C750,1715 810,1775 870,1825 C910,1858 950,1880 995,1868" fill="none" stroke="#ea6c72" stroke-width="68" stroke-linecap="round"/>
<path d="M950,1735 C985,1755 1010,1790 1022,1825" fill="none" stroke="#ea6c72" stroke-width="62" stroke-linecap="round"/>
<path d="M600,1800 C620,1850 640,1900 650,1940" fill="none" stroke="#ea6c72" stroke-width="56" stroke-linecap="round"/>
<path d="M590,2030 C630,2010 680,1995 715,1960" fill="none" stroke="#ea6c72" stroke-width="62" stroke-linecap="round"/>
<path d="M710,1455 C745,1425 770,1400 785,1378" fill="none" stroke="#ea6c72" stroke-width="46" stroke-linecap="round"/>
<path d="M730,1760 C745,1800 750,1840 745,1880" fill="none" stroke="#ea6c72" stroke-width="50" stroke-linecap="round"/>
</g>
<g id="stomach">
<path d="M500,745 C460,775 435,820 425,880 C418,930 425,985 445,1030 C470,1060 520,1075 600,1078 C700,1080 820,1065 900,1045 C950,1030 985,1005 1005,980 L990,945 C960,965 920,980 880,988 C820,998 760,1005 700,1014 C670,1020 645,1028 620,1030 C590,1020 570,1000 560,975 C548,945 542,915 545,885 C560,850 600,820 640,800 Z" fill="#f7a69e" stroke="#e6928c" stroke-width="6" stroke-linejoin="round"/>
<path d="M890,80 H958 V320 C958,345 966,362 980,374 L962,470 C932,442 908,402 898,362 C893,342 891,322 890,300 Z" fill="#f8bab6" stroke="#e29c9a" stroke-width="6" stroke-linejoin="round"/>
<path d="M975,368 C1000,330 1040,300 1085,284 C1130,270 1195,276 1240,300 C1282,325 1312,365 1326,420 C1340,470 1345,520 1338,572 C1330,640 1300,710 1260,770 C1230,815 1195,850 1160,873 C1120,900 1080,920 1040,932 C990,946 945,953 900,953 C855,953 815,949 780,940 C745,928 720,915 700,900 C680,885 660,870 645,852 C620,850 590,860 560,880 C548,860 540,840 536,815 C500,800 470,790 450,795 C470,770 495,748 520,735 C550,720 580,710 610,700 C650,688 700,675 740,665 C790,652 840,640 880,622 C915,600 935,570 948,540 C958,515 962,492 962,470 Z" fill="#f59c92" stroke="#e2908a" stroke-width="6" stroke-linejoin="round"/>
<path d="M1000,402 C1025,375 1060,358 1100,356 C1150,358 1185,382 1205,420 C1222,455 1228,500 1224,545 C1218,600 1198,655 1170,702 C1140,748 1100,785 1050,812 C1000,836 945,850 890,854 C840,856 790,850 750,838 C712,824 685,800 672,772 C664,750 668,728 685,708 C720,690 770,678 820,664 C860,652 900,636 930,612 C955,585 968,552 976,515 C984,480 990,440 1000,402 Z" fill="#f9c6c2"/>
<path d="M640,715 C625,760 635,810 665,850 C700,890 760,915 820,925" fill="none" stroke="#e6928c" stroke-width="7" stroke-linecap="round"/>
</g>
</g>
</g>
</svg>
</body>
</html>
